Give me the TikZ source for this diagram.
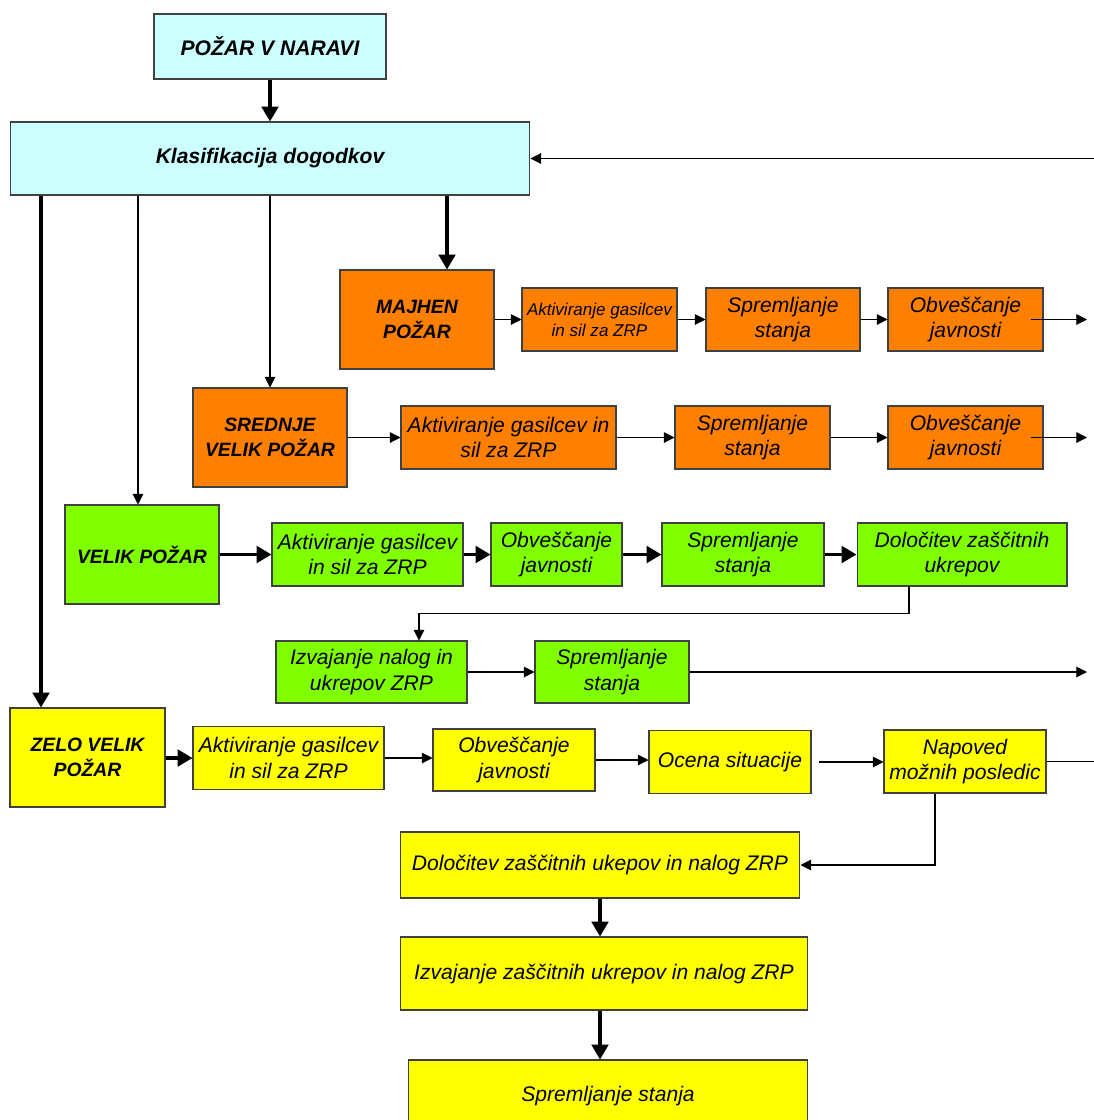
\documentclass[tikz,border=0pt]{standalone}
\usepackage{fontspec}
\setmainfont{Liberation Sans}
\usetikzlibrary{arrows.meta}
\definecolor{svetlomodra}{HTML}{CCFFFF}
\definecolor{oranzna}{HTML}{FF8000}
\definecolor{zelena}{HTML}{80FF00}
\definecolor{rumena}{HTML}{FFFF00}

\begin{document}
\begin{tikzpicture}[x=0.02cm,y=-0.02cm,
    box/.style={draw=black!75,line width=0.6pt,align=center,inner sep=1pt,
      font=\fontsize{12}{14.5}\selectfont\itshape},
    glavni/.style={box,font=\fontsize{11}{14}\selectfont\bfseries\itshape},
    naslov/.style={box,fill=svetlomodra,font=\fontsize{12}{14}\selectfont\bfseries\itshape},
    tanka/.style={-{Triangle[length=6pt,width=6pt]},line width=0.6pt},
    debela/.style={-{Triangle[length=8.5pt,width=9.5pt]},line width=1.8pt}]
  \clip (0,0) rectangle (1094,1120);
  \node[naslov,minimum width=4.64cm,minimum height=1.3cm] (pozar) at (270,46.5) {POŽAR V NARAVI};
  \node[naslov,minimum width=10.4cm,minimum height=1.46cm] (klas) at (270,158.5) {Klasifikacija dogodkov};

  \node[glavni,fill=oranzna,minimum width=3.08cm,minimum height=1.98cm] (majhen) at (417,319.5) {MAJHEN\\POŽAR};
  \node[box,fill=oranzna,minimum width=3.1cm,minimum height=1.26cm,font=\fontsize{9.7}{12}\selectfont\itshape] (makt) at (599.5,319.5) {Aktiviranje gasilcev\\in sil za ZRP};
  \node[box,fill=oranzna,minimum width=3.08cm,minimum height=1.26cm] (msprem) at (783,319.5) {Spremljanje\\stanja};
  \node[box,fill=oranzna,minimum width=3.1cm,minimum height=1.26cm] (mobv) at (965.5,319.5) {Obveščanje\\javnosti};

  \node[glavni,fill=oranzna,minimum width=3.08cm,minimum height=1.98cm] (srednje) at (270,437.5) {SREDNJE\\VELIK POŽAR};
  \node[box,fill=oranzna,minimum width=4.3cm,minimum height=1.26cm] (sakt) at (508.5,437.5) {Aktiviranje gasilcev in\\sil za ZRP};
  \node[box,fill=oranzna,minimum width=3.1cm,minimum height=1.26cm] (ssprem) at (752.5,437.5) {Spremljanje\\stanja};
  \node[box,fill=oranzna,minimum width=3.1cm,minimum height=1.26cm] (sobv) at (965.5,437.5) {Obveščanje\\javnosti};

  \node[glavni,fill=zelena,minimum width=3.08cm,minimum height=1.98cm] (velik) at (142,554.5) {VELIK POŽAR};
  \node[box,fill=zelena,minimum width=3.82cm,minimum height=1.26cm] (vakt) at (367.5,554.5) {Aktiviranje gasilcev\\in sil za ZRP};
  \node[box,fill=zelena,minimum width=2.62cm,minimum height=1.26cm] (vobv) at (556.5,554.5) {Obveščanje\\javnosti};
  \node[box,fill=zelena,minimum width=3.24cm,minimum height=1.26cm] (vsprem) at (743,554.5) {Spremljanje\\stanja};
  \node[box,fill=zelena,minimum width=4.2cm,minimum height=1.26cm] (vdol) at (962,554.5) {Določitev zaščitnih\\ukrepov};
  \node[box,fill=zelena,minimum width=3.82cm,minimum height=1.24cm] (vizv) at (371.5,672) {Izvajanje nalog in\\ukrepov ZRP};
  \node[box,fill=zelena,minimum width=3.08cm,minimum height=1.24cm] (vsprem2) at (612,672) {Spremljanje\\stanja};

  \node[glavni,fill=rumena,minimum width=3.1cm,minimum height=1.98cm] (zelo) at (87.5,757.5) {ZELO VELIK\\POŽAR};
  \node[box,fill=rumena,minimum width=3.82cm,minimum height=1.26cm] (zakt) at (288.5,758) {Aktiviranje gasilcev\\in sil za ZRP};
  \node[box,fill=rumena,minimum width=3.24cm,minimum height=1.24cm] (zobv) at (514,760) {Obveščanje\\javnosti};
  \node[box,fill=rumena,minimum width=3.24cm,minimum height=1.26cm] (zocena) at (730,762) {Ocena situacije};
  \node[box,fill=rumena,minimum width=3.24cm,minimum height=1.26cm] (znap) at (965,761.5) {Napoved\\možnih posledic};
  \node[box,fill=rumena,minimum width=8cm,minimum height=1.32cm] (zdol) at (600,865) {Določitev zaščitnih ukepov in nalog ZRP};
  \node[box,fill=rumena,minimum width=8.16cm,minimum height=1.46cm] (zizv) at (604,973.5) {Izvajanje zaščitnih ukrepov in nalog ZRP};
  \node[box,fill=rumena,minimum width=8cm,minimum height=1.46cm] (zsprem) at (608,1096.5) {Spremljanje stanja};

  \coordinate (levo) at (41,0);
  \coordinate (velx) at (138,0);
  \coordinate (majx) at (447,0);
  \coordinate (izhod) at (1087,0);
  \coordinate (desno) at (1094,0);

  \draw[debela] (pozar) -- (klas);
  \draw[debela] (klas.south -| levo) -- (zelo.north -| levo);
  \draw[tanka] (klas.south -| velx) -- (velik.north -| velx);
  \draw[tanka] (klas.south -| srednje.north) -- (srednje.north);
  \draw[debela] (klas.south -| majx) -- (majhen.north -| majx);
  \draw[tanka] (klas.east -| desno) -- (klas.east);

  \draw[tanka] (majhen) -- (makt);
  \draw[tanka] (makt) -- (msprem);
  \draw[tanka] (msprem) -- (mobv);
  \draw[tanka] ([xshift=-0.26cm]mobv.east) -- (mobv.east -| izhod);

  \draw[tanka] (srednje) -- (sakt);
  \draw[tanka] (sakt) -- (ssprem);
  \draw[tanka] (ssprem) -- (sobv);
  \draw[tanka] ([xshift=-0.26cm]sobv.east) -- (sobv.east -| izhod);

  \draw[debela] (velik) -- (vakt);
  \draw[debela] (vakt) -- (vobv);
  \draw[debela] (vobv) -- (vsprem);
  \draw[debela] (vsprem) -- (vdol);
  \draw[tanka] ([xshift=-1.06cm]vdol.south) -- ++(0,27) -| ([xshift=0.95cm]vizv.north);
  \draw[tanka] (vizv) -- (vsprem2);
  \draw[tanka] (vsprem2) -- (vsprem2.east -| izhod);

  \draw[debela] (zelo.east |- zakt.west) -- (zakt.west);
  \draw[tanka] (zakt.east) -- (zakt.east -| zobv.west);
  \draw[tanka] (zobv.east) -- (zobv.east -| zocena.west);
  \draw[tanka,shorten <=0.14cm] (zocena.east) -- (zocena.east -| znap.west);
  \draw[line width=0.6pt] (znap.east) -- (znap.east -| desno);
  \draw[tanka] ([xshift=-0.6cm]znap.south) |- (zdol.east);
  \draw[debela] (zdol.south) -- (zdol.south |- zizv.north);
  \draw[debela] (zdol.south |- zizv.south) -- (zdol.south |- zsprem.north);
\end{tikzpicture}
\end{document}
